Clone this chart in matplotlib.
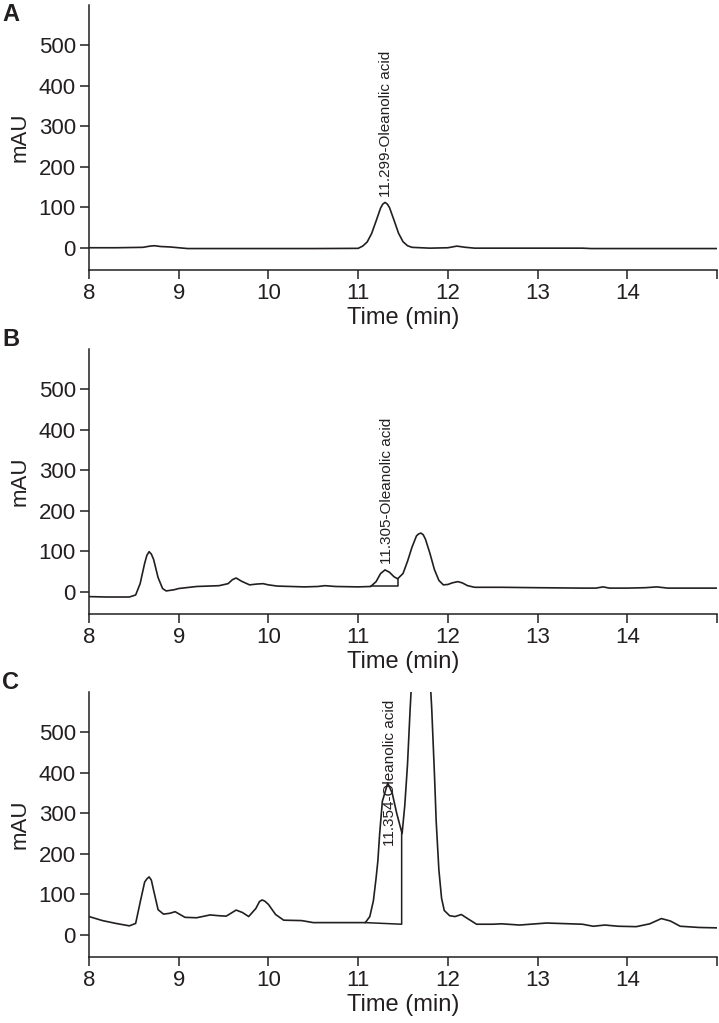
import matplotlib.pyplot as plt

plt.rcParams['font.family'] = ['Liberation Sans', 'DejaVu Sans']
plt.rcParams['font.size'] = 16

INK = '#231f20'

# ---- chromatogram A (standard) ----
time_a = [8.0, 8.3, 8.6, 8.68, 8.73, 8.8, 8.9, 9.0, 9.1, 9.5, 10.0, 10.5, 11.0,
          11.05, 11.1, 11.15, 11.2, 11.25, 11.275, 11.3, 11.325, 11.35, 11.4,
          11.45, 11.5, 11.55, 11.6, 11.8, 12.0, 12.1, 12.2, 12.3, 13.0, 13.5,
          13.6, 14.0, 15.0]
mau_a = [0, 0, 1, 4, 5, 3, 2, 0, -2, -2, -2, -2, -1.5,
         4, 14, 35, 66, 98, 108, 112, 108, 99, 68,
         36, 15, 5, 1, -1, 0, 4, 1, -1, -1, -1,
         -2, -2, -2]

# ---- chromatogram B ----
time_b = [8.0, 8.2, 8.45, 8.52, 8.57, 8.62, 8.645, 8.67, 8.695, 8.72, 8.77,
          8.82, 8.86, 8.95, 9.0, 9.2, 9.45, 9.55, 9.6, 9.64, 9.7, 9.79, 9.87,
          9.94, 10.0, 10.1, 10.4, 10.55, 10.63, 10.75, 11.0, 11.14, 11.2,
          11.25, 11.3, 11.35, 11.4, 11.44, 11.5, 11.55, 11.6, 11.65, 11.675,
          11.7, 11.725, 11.75, 11.8, 11.85, 11.9, 11.95, 12.0, 12.05, 12.11,
          12.16, 12.22, 12.3, 12.6, 13.0, 13.5, 13.65, 13.73, 13.8, 14.0,
          14.2, 14.33, 14.45, 15.0]
mau_b = [-12, -13, -13, -8, 20, 70, 90, 99, 93, 80, 35,
         8, 2, 5, 8, 13, 15, 20, 30, 34, 26, 17, 19,
         20, 17, 14, 12, 13, 15, 13, 12, 13, 25,
         45, 54, 48, 37, 32, 45, 75, 110, 138, 143,
         145, 141, 130, 95, 55, 28, 17, 18, 22, 25,
         22, 15, 11, 11, 10, 9, 9, 12, 9, 9,
         10, 12, 9, 9]

# ---- chromatogram C (sample) ----
time_c = [8.0, 8.15, 8.3, 8.45, 8.52, 8.57, 8.62, 8.645, 8.67, 8.695, 8.72,
          8.77, 8.83, 8.9, 8.96, 9.07, 9.2, 9.35, 9.45, 9.53, 9.64, 9.71,
          9.78, 9.86, 9.9, 9.93, 9.96, 10.0, 10.08, 10.17, 10.37, 10.5, 10.8,
          11.08, 11.13, 11.17, 11.2, 11.22, 11.24, 11.27, 11.33, 11.38, 11.43,
          11.49, 11.52, 11.55, 11.58, 11.62, 11.7, 11.78, 11.82, 11.85, 11.87,
          11.9, 11.93, 11.96, 12.02, 12.08, 12.15, 12.22, 12.32, 12.5, 12.6,
          12.8, 13.1, 13.5, 13.62, 13.75, 13.9, 14.1, 14.25, 14.38, 14.48,
          14.59, 14.8, 15.0]
mau_c = [45, 35, 28, 22, 28, 80, 130, 138, 143, 135, 110,
         62, 51, 53, 57, 43, 42, 49, 47, 46, 61, 55,
         45, 65, 82, 86, 83, 75, 50, 36, 35, 30, 30,
         30, 45, 84, 140, 183, 250, 330, 375, 350, 300,
         250, 320, 420, 560, 720, 850, 720, 560, 400, 280,
         160, 90, 60, 47, 45, 50, 40, 26, 26, 27,
         24, 29, 26, 21, 24, 21, 20, 27, 40, 34,
         21, 18, 17]

# integration baselines drawn by the software
base_time = [None, [11.14, 11.44, 11.44], [11.08, 11.485, 11.485]]
base_mau = [None, [13, 13, 32], [30, 26, 250]]

peak_labels = ['11.299-Oleanolic acid', '11.305-Oleanolic acid',
               '11.354-Oleanolic acid']
label_time = [11.31, 11.32, 11.36]
label_mau = [126, 69, 220]

panel_letters = ['A', 'B', 'C']
x_ticks = [8, 9, 10, 11, 12, 13, 14, 15]
x_ticklabels = ['8', '9', '10', '11', '12', '13', '14', '']
y_ticks = [0, 100, 200, 300, 400, 500]

times = [time_a, time_b, time_c]
maus = [mau_a, mau_b, mau_c]

fig = plt.figure(figsize=(7.19, 10.23), dpi=100)
W, H = 719.0, 1023.0
ax_left, ax_right = 89, 717
ax_tops = [5, 349, 692]
ax_bottoms = [270, 614, 957]
letter_tops = [3, 328, 671]

for i in range(3):
    ax = fig.add_axes([ax_left / W, 1 - ax_bottoms[i] / H,
                       (ax_right - ax_left) / W,
                       (ax_bottoms[i] - ax_tops[i]) / H])
    ax.plot(times[i], maus[i], color=INK, lw=1.2)
    if base_time[i] is not None:
        ax.plot(base_time[i], base_mau[i], color=INK, lw=1.1)
    ax.text(label_time[i], label_mau[i], peak_labels[i], rotation=90,
            ha='center', va='bottom', fontsize=11, color=INK, zorder=5)

    ax.set_xlim(8, 15)
    ax.set_ylim(-55, 600)
    ax.set_xticks(x_ticks)
    ax.set_xticklabels(x_ticklabels)
    ax.set_yticks(y_ticks)
    ax.set_xlabel('Time (min)', color=INK, labelpad=2, fontsize=17)
    ax.set_ylabel('mAU', color=INK, labelpad=6)

    for side in ['top', 'right']:
        ax.spines[side].set_visible(False)
    for side in ['left', 'bottom']:
        ax.spines[side].set_color(INK)
        ax.spines[side].set_linewidth(1.1)
    ax.tick_params(direction='out', length=6.5, width=1.1, color=INK,
                   labelcolor=INK, pad=3)

    fig.text(2 / W, 1 - letter_tops[i] / H, panel_letters[i],
             fontsize=17, fontweight='bold', color=INK, va='top', ha='left')

fig.savefig('out.png', dpi=100)
